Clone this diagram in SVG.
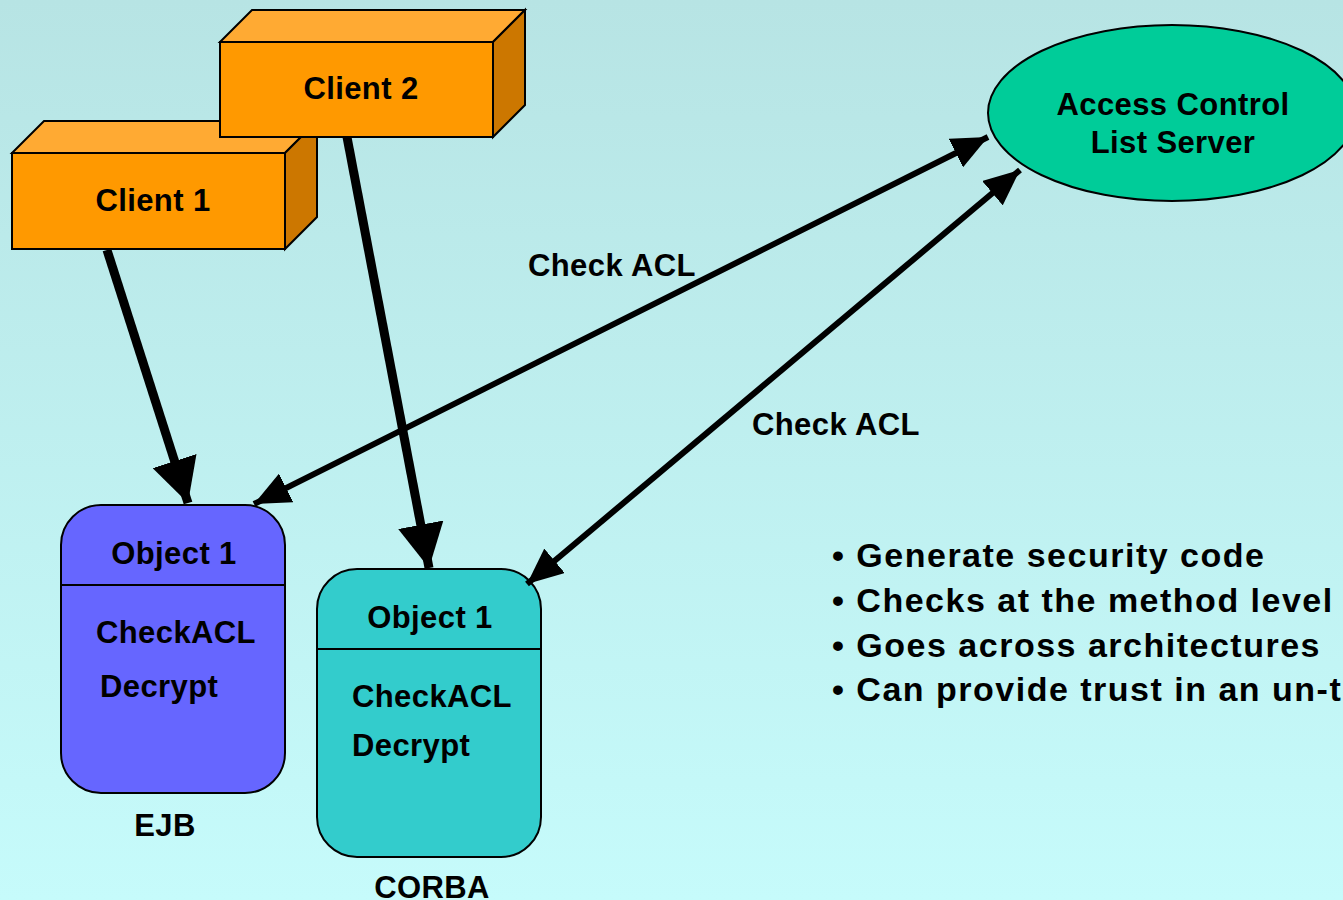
<svg xmlns="http://www.w3.org/2000/svg" width="1343" height="900" viewBox="0 0 1343 900">
  <defs>
    <linearGradient id="bg" x1="0" y1="0" x2="0" y2="1">
      <stop offset="0" stop-color="#b7e4e4"/>
      <stop offset="1" stop-color="#c6fbfb"/>
    </linearGradient>
    <marker id="headBig" viewBox="0 0 44 46" refX="44" refY="23" markerWidth="44" markerHeight="46" markerUnits="userSpaceOnUse" orient="auto-start-reverse">
      <path d="M0,0 L44,23 L0,46 z" fill="#000"/>
    </marker>
    <marker id="headSmall" viewBox="0 0 36 32" refX="36" refY="16" markerWidth="36" markerHeight="32" markerUnits="userSpaceOnUse" orient="auto-start-reverse">
      <path d="M0,0 L36,16 L0,32 z" fill="#000"/>
    </marker>
  </defs>
  <style>
    text { font-family: "Liberation Sans", Arial, sans-serif; font-weight: bold; fill: #000; }
    .lbl { font-size: 31px; letter-spacing: 0.4px; }
    .box { stroke: #000; stroke-width: 2; stroke-linejoin: miter; }
    .front { fill: #ff9900; }
    .top { fill: #ffaa33; }
    .side { fill: #cc7700; }
    .thick { stroke: #000; stroke-width: 9; fill: none; marker-end: url(#headBig); }
    .both { stroke: #000; stroke-width: 6; fill: none; marker-start: url(#headSmall); marker-end: url(#headSmall); }
    .bullet { font-size: 34px; letter-spacing: 1.5px; }
  </style>

  <rect width="1343" height="900" fill="url(#bg)"/>

  <!-- client boxes (3D) -->
  <g id="client1">
    <polygon class="box top" points="12,153 44,121 317,121 285,153"/>
    <polygon class="box side" points="285,153 317,121 317,217 285,249"/>
    <rect class="box front" x="12" y="153" width="273" height="96"/>
    <text class="lbl" x="153" y="211" text-anchor="middle">Client 1</text>
  </g>
  <g id="client2">
    <polygon class="box top" points="220,42 252,10 525,10 493,42"/>
    <polygon class="box side" points="493,42 525,10 525,105 493,137"/>
    <rect class="box front" x="220" y="42" width="273" height="95"/>
    <text class="lbl" x="361" y="99" text-anchor="middle">Client 2</text>
  </g>

  <!-- ACL server -->
  <g id="acl-server">
    <ellipse cx="1172" cy="113" rx="184" ry="88" fill="#00cc99" stroke="#000" stroke-width="2"/>
    <text class="lbl" x="1173" y="115" text-anchor="middle">Access Control</text>
    <text class="lbl" x="1173" y="153" text-anchor="middle">List Server</text>
  </g>

  <!-- objects -->
  <g id="ejb-object">
    <rect x="61" y="505" width="224" height="288" rx="40" ry="40" fill="#6666ff" stroke="#000" stroke-width="2"/>
    <line x1="61" y1="585" x2="285" y2="585" stroke="#000" stroke-width="2"/>
    <text class="lbl" x="174" y="564" text-anchor="middle">Object 1</text>
    <text class="lbl" x="96" y="643">CheckACL</text>
    <text class="lbl" x="100" y="697">Decrypt</text>
    <text class="lbl" x="165" y="836" text-anchor="middle">EJB</text>
  </g>
  <g id="corba-object">
    <rect x="317" y="569" width="224" height="288" rx="40" ry="40" fill="#33cccc" stroke="#000" stroke-width="2"/>
    <line x1="317" y1="649" x2="541" y2="649" stroke="#000" stroke-width="2"/>
    <text class="lbl" x="430" y="628" text-anchor="middle">Object 1</text>
    <text class="lbl" x="352" y="707">CheckACL</text>
    <text class="lbl" x="352" y="756">Decrypt</text>
    <text class="lbl" x="432" y="898" text-anchor="middle">CORBA</text>
  </g>

  <!-- connectors -->
  <g id="connectors">
    <line class="thick" x1="107" y1="250" x2="188" y2="503"/>
    <line class="thick" x1="347" y1="137" x2="429" y2="568"/>
    <line class="both" x1="254" y1="504" x2="988" y2="137"/>
    <line class="both" x1="527" y1="584" x2="1020" y2="170"/>
  </g>

  <!-- connector labels -->
  <g id="labels">
    <text class="lbl" x="528" y="276">Check ACL</text>
    <text class="lbl" x="752" y="435">Check ACL</text>
  </g>

  <!-- notes -->
  <g id="notes">
    <text class="bullet" x="832" y="567">• Generate security code</text>
    <text class="bullet" x="832" y="612">• Checks at the method level</text>
    <text class="bullet" x="832" y="657">• Goes across architectures</text>
    <text class="bullet" x="832" y="701">• Can provide trust in an un-trusted environment</text>
  </g>
</svg>
